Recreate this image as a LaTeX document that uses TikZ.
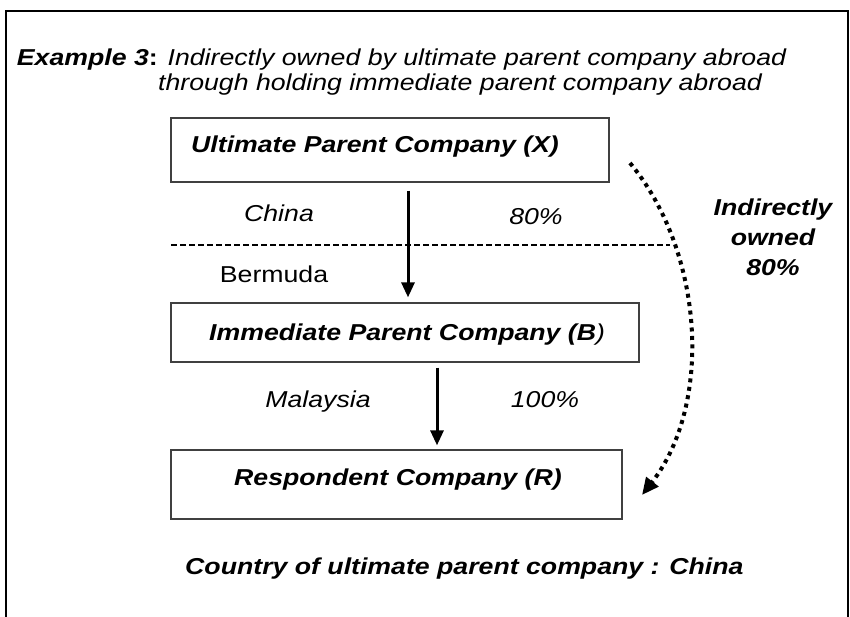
\documentclass[tikz,border=0pt]{standalone}
\usepackage{fontspec}
\setmainfont{Liberation Sans}[FakeStretch=1.16]
\usetikzlibrary{arrows.meta,calc}
\begin{document}
\begin{tikzpicture}[x=1pt,y=-1pt,
  txt/.style={font=\fontsize{23}{27}\selectfont, inner sep=0pt},
  bi/.style={txt, font=\fontsize{23}{27}\selectfont\bfseries\itshape},
  it/.style={txt, font=\fontsize{23}{27}\selectfont\itshape},
  boxn/.style={draw=black!75, line width=1.3pt, inner sep=0pt},
  arr/.style={line width=3pt, -{Triangle[width=13pt,length=15pt]}},
  dotarr/.style={line width=4pt, dash pattern=on 4pt off 4.5pt, -{Triangle[width=15pt,length=17pt]}}
]
\useasboundingbox (0,0) rectangle (850,616);
\fill[white] (0,0) rectangle (850,616);
% frame
\draw[line width=2.6pt] (6,640) -- (6,11) -- (848,11) -- (848,640);
% title
\node[txt, anchor=base east] (t1) at (787,65) {\textbf{\textit{Example 3}:} \textit{Indirectly owned by ultimate parent company abroad}};
\node[it, anchor=base east] (t2) at (762,90) {through holding immediate parent company abroad};
% boxes
\node[boxn, minimum width=438pt, minimum height=64pt] (X) at (390,150) {};
\node[boxn, minimum width=468pt, minimum height=59pt] (B) at (405,332.5) {};
\node[boxn, minimum width=451pt, minimum height=69pt] (R) at (396.5,484.5) {};
\node[bi, anchor=base west] (lx) at (191,152) {Ultimate Parent Company (X)};
\node[bi, anchor=base west] (lb) at (209,340) {Immediate Parent Company (B\textmd{)}};
\node[bi, anchor=base west] (lr) at (234,485) {Respondent Company (R)};
% side labels
\node[it, anchor=base] (china) at (279,221) {China};
\node[it, anchor=base] (p80) at (536,224) {80\%};
\node[txt, anchor=base] (berm) at (274,282) {Bermuda};
\node[it, anchor=base] (malay) at (318,407) {Malaysia};
\node[it, anchor=base] (p100) at (545,407) {100\%};
% dashed border line
\coordinate (dl) at (171,245);
\coordinate (dr) at (670,245);
\draw[line width=1.5pt, dash pattern=on 6pt off 3pt] (dl) -- (dr);
% arrows
\coordinate (c1) at (408,0);
\coordinate (c2) at (437,0);
\draw[arr] ([yshift=-8pt]c1 |- X.south) -- ([yshift=5pt]c1 |- B.north);
\draw[arr] ([yshift=-5pt]c2 |- B.south) -- ([yshift=4pt]c2 |- R.north);
% indirect ownership
\coordinate (ds) at (630,163);
\coordinate (de) at (642,495);
\draw[dotarr] (ds) .. controls (704,252) and (713,404) .. (de);
\node[bi, align=center, font=\fontsize{23}{30}\selectfont\bfseries\itshape, anchor=base] (ind) at (773,275) {Indirectly\\owned\\80\%};
% bottom
\node[bi, anchor=base west] (bot) at (185,574) {Country of ultimate parent company : China};
\end{tikzpicture}
\end{document}
